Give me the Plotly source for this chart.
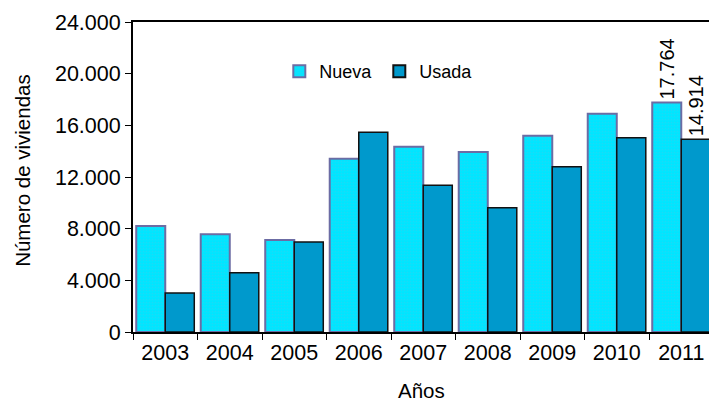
import plotly.graph_objects as go

years = ["2003", "2004", "2005", "2006", "2007", "2008", "2009", "2010", "2011"]
nueva = [8210, 7570, 7120, 13420, 14350, 13940, 15190, 16900, 17764]
usada = [3020, 4580, 6960, 15470, 11370, 9620, 12790, 15030, 14914]
y_ticks = [0, 4000, 8000, 12000, 16000, 20000, 24000]
y_tick_labels = ["0", "4.000", "8.000", "12.000", "16.000", "20.000", "24.000"]


def fmt(v):
    return f"{v:,}".replace(",", ".")


nueva_text = [""] * (len(nueva) - 1) + [fmt(nueva[-1])]
usada_text = [""] * (len(usada) - 1) + [fmt(usada[-1])]

FONT = "Liberation Sans, Arial, sans-serif"

fig = go.Figure()
fig.add_trace(go.Bar(
    name="Nueva", x=years, y=nueva,
    marker=dict(color="#00E5FF", line=dict(color="#6C6CA4", width=2),
                pattern=dict(shape=".", size=3, solidity=0.25, fgcolor="#3ACFEA", fillmode="overlay")),
    text=nueva_text, textposition="outside", textangle=-90, constraintext="none",
    textfont=dict(size=20, color="black", family=FONT), cliponaxis=False,
))
fig.add_trace(go.Bar(
    name="Usada", x=years, y=usada,
    marker=dict(color="#0099CC", line=dict(color="#111111", width=1.5)),
    text=usada_text, textposition="outside", textangle=-90, constraintext="none",
    textfont=dict(size=20, color="black", family=FONT), cliponaxis=False,
))

fig.update_layout(
    width=709, height=401,
    margin=dict(l=133, r=0, t=22, b=69, autoexpand=False),
    paper_bgcolor="white", plot_bgcolor="white",
    barmode="group", bargap=0.1, bargroupgap=0,
    font=dict(family=FONT, color="black"),
    showlegend=True,
    legend=dict(orientation="h", x=0.254, y=0.84, xanchor="left", yanchor="middle",
                font=dict(size=18), bgcolor="rgba(0,0,0,0)", entrywidth=55,
                entrywidthmode="pixels", itemsizing="constant"),
    xaxis=dict(range=[-0.5, 8.43], showline=True, linecolor="black", linewidth=2,
               mirror=True, ticks="outside", ticklen=6, tickcolor="black",
               tickson="boundaries", tickfont=dict(size=21.5), showgrid=False,
               automargin=False),
    yaxis=dict(range=[0, 24000], tickvals=y_ticks, ticktext=y_tick_labels,
               showline=True, linecolor="black", linewidth=2, ticks="outside",
               ticklen=6, tickcolor="black", tickfont=dict(size=21.5),
               showgrid=False, zeroline=False, automargin=False),
    annotations=[
        dict(text="Número de viviendas", textangle=-90, xref="paper", yref="paper",
             x=-0.191, y=0.523, xanchor="center", yanchor="middle", showarrow=False,
             font=dict(size=20.5)),
        dict(text="Años", xref="paper", yref="paper", x=0.5, y=-0.188,
             xanchor="center", yanchor="middle", showarrow=False, font=dict(size=20.5)),
    ],
)

fig.write_html(
    "out.html",
    config={"displayModeBar": False},
    post_script="document.body.style.margin='0';document.body.style.overflow='hidden';",
)
